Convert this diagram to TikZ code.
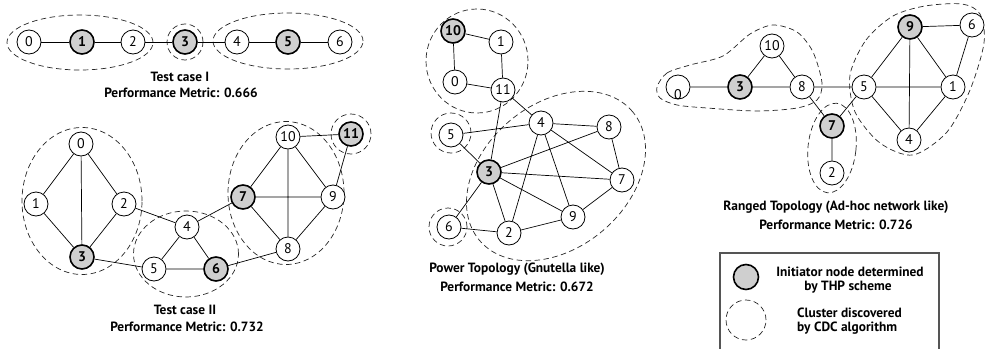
\documentclass[tikz,border=0pt]{standalone}
\usepackage{fontspec}
\setmainfont{PT Sans}
\usetikzlibrary{shapes.geometric,backgrounds}
\definecolor{inigray}{HTML}{CFCFCF}
\definecolor{boxgray}{HTML}{555555}
\begin{document}
\begin{tikzpicture}[x=1pt,y=-1pt,
  nd/.style={circle,draw=black,line width=0.8pt,minimum size=24pt,inner sep=0pt,fill=white,font=\fontsize{14}{14}\selectfont},
  ini/.style={nd,fill=inigray,line width=1.6pt,font=\bfseries\fontsize{14}{14}\selectfont},
  cl/.style={draw=black!85,line width=0.7pt,dash pattern=on 5.5pt off 3.5pt,inner sep=0pt},
  ed/.style={line width=0.7pt},
  lbl/.style={font=\bfseries\fontsize{13.4}{15}\selectfont,inner sep=0pt}]
\useasboundingbox (0,0) rectangle (985,348);

% ---------- Test case I ----------
\node[nd]  (a0) at (29,42) {0};
\node[ini] (a1) at (82,42) {1};
\node[nd]  (a2) at (133,42) {2};
\node[ini] (a3) at (185,42) {3};
\node[nd]  (a4) at (237,42) {4};
\node[ini] (a5) at (288,42) {5};
\node[nd]  (a6) at (340,42) {6};
\draw[ed] (a0)--(a1) (a1)--(a2) (a2)--(a3) (a3)--(a4) (a4)--(a5) (a5)--(a6);
\begin{scope}[on background layer]
\node[cl,ellipse,minimum width=146,minimum height=55] (ka1) at (80,42.5) {};
\node[cl,circle,minimum size=36] (ka2) at (185,42) {};
\node[cl,ellipse,minimum width=150,minimum height=56] (ka3) at (288,41) {};
\end{scope}
\node[lbl] (ta1) at (180,77) {Test case I};
\node[lbl] (ta2) at (181,93) {Performance Metric: 0.666};

% ---------- Test case II ----------
\node[nd]  (b0) at (81,144) {0};
\node[nd]  (b1) at (36,204) {1};
\node[nd]  (b2) at (124,204) {2};
\node[ini] (b3) at (82,257) {3};
\node[nd]  (b4) at (187,227) {4};
\node[nd]  (b5) at (154,269) {5};
\node[ini] (b6) at (216,269) {6};
\node[ini] (b7) at (243,197) {7};
\node[nd]  (b8) at (288,249) {8};
\node[nd]  (b9) at (333,197) {9};
\node[nd]  (b10) at (288,137) {10};
\node[ini] (b11) at (351,134) {11};
\draw[ed] (b0)--(b1) (b0)--(b2) (b0)--(b3) (b1)--(b3) (b2)--(b3) (b2)--(b4)
  (b3)--(b5) (b4)--(b5) (b4)--(b6) (b5)--(b6) (b4)--(b7) (b6)--(b8)
  (b7)--(b10) (b7)--(b9) (b7)--(b8) (b10)--(b9) (b10)--(b8) (b9)--(b8)
  (b10)--(b11) (b9)--(b11);
\begin{scope}[on background layer]
\node[cl,ellipse,minimum width=120,minimum height=147] (kb1) at (82,201) {};
\node[cl,ellipse,minimum width=105,minimum height=86] (kb2) at (186,254) {};
\node[cl,ellipse,minimum width=116,minimum height=143] (kb3) at (286,193) {};
\node[cl,circle,minimum size=40] (kb4) at (351,134) {};
\end{scope}
\node[lbl] (tb1) at (185,310) {Test case II};
\node[lbl] (tb2) at (187,327) {Performance Metric: 0.732};

% ---------- Power topology ----------
\node[ini] (c10) at (453,31) {10};
\node[nd]  (c1) at (501,42) {1};
\node[nd]  (c0) at (455,82) {0};
\node[nd]  (c11) at (503,90) {11};
\node[nd]  (c4) at (541,123) {4};
\node[nd]  (c8) at (609,127) {8};
\node[nd]  (c5) at (451,135) {5};
\node[ini] (c3) at (489,172) {3};
\node[nd]  (c7) at (622,180) {7};
\node[nd]  (c9) at (573,217) {9};
\node[nd]  (c2) at (509,233) {2};
\node[nd]  (c6) at (449,227) {6};
\draw[ed] (c10)--(c1) (c10)--(c0) (c1)--(c11) (c0)--(c11) (c11)--(c4) (c11)--(c3)
  (c5)--(c4) (c5)--(c3) (c4)--(c8) (c4)--(c7) (c4)--(c9) (c4)--(c2)
  (c8)--(c3) (c8)--(c7) (c3)--(c7) (c3)--(c9) (c3)--(c2) (c3)--(c6)
  (c6)--(c2) (c2)--(c9) (c9)--(c7);
\begin{scope}[on background layer]
\node[cl,ellipse,minimum width=102,minimum height=104] (kc1) at (477,61) {};
\node[cl,circle,minimum size=40] (kc2) at (451,133) {};
\node[cl,circle,minimum size=38] (kc3) at (448,227) {};
\node[cl,ellipse,minimum width=200,minimum height=144,rotate=40] (kc4) at (556,176) {};
\end{scope}
\node[lbl] (tc1) at (517,269) {Power Topology (Gnutella like)};
\node[lbl] (tc2) at (517,287) {Performance Metric: 0.672};

% ---------- Ranged topology ----------
\node[nd]  (d0) at (678,87) {\raisebox{-12pt}[0pt][0pt]{0}};
\node[ini] (d3) at (740,87) {3};
\node[nd]  (d10) at (772,46) {10};
\node[nd]  (d8) at (802,87) {8};
\node[nd]  (d5) at (864,87) {5};
\node[ini] (d7) at (832,126) {7};
\node[nd]  (d2) at (832,173) {2};
\node[ini] (d9) at (910,27) {9};
\node[nd]  (d6) at (972,25) {6};
\node[nd]  (d1) at (953,87) {1};
\node[nd]  (d4) at (909,140) {4};
\draw[ed] (d0)--(d3) (d3)--(d10) (d3)--(d8) (d10)--(d8) (d8)--(d5) (d8)--(d7)
  (d5)--(d7) (d7)--(d2) (d5)--(d9) (d5)--(d1) (d5)--(d4) (d9)--(d6)
  (d9)--(d1) (d9)--(d4) (d6)--(d1) (d1)--(d4);
\begin{scope}[on background layer]
\draw[cl] plot[smooth cycle] coordinates {(657,87) (667,73) (690,65) (723,56) (750,34)
  (773,25) (797,32) (813,52) (822,83) (817,100) (797,108) (757,111) (707,108) (677,105) (660,98)};
\node[cl,ellipse,minimum width=48,minimum height=90,rotate=-6] (kd2) at (832,148) {};
\draw[cl] plot[smooth cycle] coordinates {(850,75) (866,40) (893,16) (925,6) (962,4)
  (980,14) (984,43) (970,90) (947,132) (913,155) (880,143) (855,112)};
\end{scope}
\node[lbl] (td1) at (836,207) {Ranged Topology (Ad-hoc network like)};
\node[lbl] (td2) at (836,225) {Performance Metric: 0.726};

% ---------- Legend ----------
\draw[draw=boxgray,line width=1.1pt] (720,253) rectangle (939,360);
\node[ini,minimum size=25pt] (lg1) at (746,277) {};
\node[cl,circle,minimum size=40] (lg2) at (746,320) {};
\node[lbl] (lt1) at (850,272) {Initiator node determined};
\node[lbl] (lt2) at (848,287) {by THP scheme};
\node[lbl,anchor=west] (lt3) at (797,313) {Cluster discovered};
\node[lbl,anchor=west] (lt4) at (797,328) {by CDC algorithm};
\end{tikzpicture}
\end{document}
